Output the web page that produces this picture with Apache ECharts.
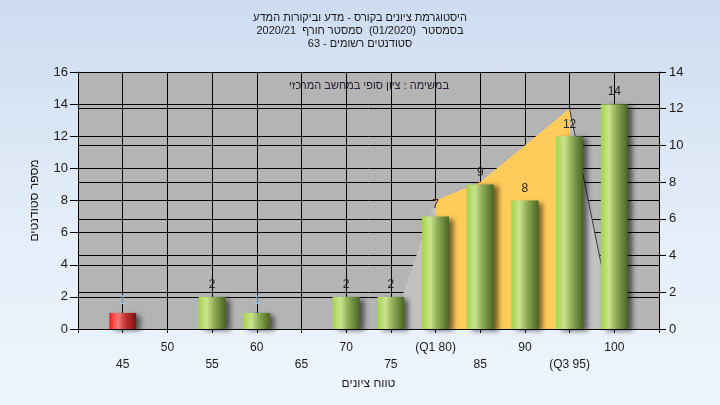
<!DOCTYPE html>
<html><head><meta charset="utf-8">
<script src="https://cdn.jsdelivr.net/npm/echarts@6/dist/echarts.min.js"></script>
<style>
html,body{margin:0;padding:0;}
#c{width:720px;height:405px;background:linear-gradient(to bottom,#cedcf0 0%,#e4edf9 55%,#eff5fd 100%);}
</style>
</head><body><div id="c"></div>
<script>
// categories (score bins); 40 and 105 are empty edge slots
const categories = ['40','45','50','55','60','65','70','75','80','85','90','95','100','105'];
const tickLabels = ['','45','50','55','60','65','70','75','(Q1 80)','85','90','(Q3 95)','100',''];
// number of students per bin (left axis)
const counts = [null,1,0,2,1,0,2,2,7,9,8,12,14,null];
// distribution curve (right axis)
const curveAll = [null,null,null,null,null,null,null,0,7,8,10,12,0,null];
const curveIQR = [null,null,null,null,null,null,null,null,7,8,10,12,null,null];
const curveTail = [null,null,null,null,null,null,null,null,null,null,null,12,0,null];
const leftTicks = {min:0,max:16,interval:2};
const rightTicks = {min:0,max:14,interval:2};
const titleText = 'היסטוגרמת ציונים בקורס - מדע וביקורות המדע\nבסמסטר  (01/2020)  סמסטר חורף  2020/21\nסטודנטים רשומים - 63';
const noteText = 'במשימה : ציון סופי במחשב המרכזי';
const xName = 'טווח ציונים';
const yName = 'מספר סטודנטים';

const FONT = '"Liberation Sans", Arial, sans-serif';
const green = {type:'linear',x:0,y:0,x2:1,y2:0,colorStops:[
  {offset:0,color:'#a6d24a'},{offset:0.3,color:'#c9e48f'},{offset:0.55,color:'#93b05a'},{offset:1,color:'#4a6522'}]};
const red = {type:'linear',x:0,y:0,x2:1,y2:0,colorStops:[
  {offset:0,color:'#ff1c1c'},{offset:0.33,color:'#f27a7a'},{offset:0.6,color:'#c53030'},{offset:1,color:'#7e1212'}]};

const barData = counts.map((v,i)=>{
  if (v === null) return null;
  return {value:v, itemStyle:{color: i===1 ? red : green},
    label:{show: v>0, color: v===1 ? '#9cc2e0' : '#222'}};
});

const chart = echarts.init(document.getElementById('c'), null, {renderer:'canvas'});
chart.setOption({
  backgroundColor:'transparent',
  animation:false,
  textStyle:{fontFamily:FONT},
  title:{text:titleText,left:'center',top:6,
    textStyle:{fontSize:11,lineHeight:13,color:'#1a1a1a',fontWeight:'normal',fontFamily:FONT}},
  graphic:[{type:'text',x:369,y:86,style:{text:noteText,align:'center',verticalAlign:'middle',
    fill:'#2a2030',font:'11px '+FONT},z:10}],
  grid:{left:78,right:61,top:72,bottom:76,show:true,backgroundColor:'#b4b4b4',borderWidth:0},
  xAxis:{type:'category',data:categories,boundaryGap:false,
    name:xName,nameLocation:'middle',nameGap:46,
    nameTextStyle:{fontSize:12,color:'#1a1a1a',fontFamily:FONT},
    axisLine:{lineStyle:{color:'#000',width:1}},
    axisTick:{show:true,interval:0,length:4,lineStyle:{color:'#000'}},
    splitLine:{show:true,interval:0,lineStyle:{color:'#000',width:1}},
    axisLabel:{interval:0,margin:10,fontSize:12,lineHeight:17,color:'#1a1a1a',fontFamily:FONT,
      formatter:(v,i)=>(i%2 ? '\n' : '')+tickLabels[i]}},
  yAxis:[
    {type:'value',min:leftTicks.min,max:leftTicks.max,interval:leftTicks.interval,
     name:yName,nameLocation:'middle',nameGap:37,
     nameTextStyle:{fontSize:12,color:'#1a1a1a',fontFamily:FONT},
     axisLine:{show:true,lineStyle:{color:'#000'}},
     axisTick:{show:true,length:8,lineStyle:{color:'#000'}},
     splitLine:{show:true,lineStyle:{color:'#000',width:1}},
     axisLabel:{fontSize:13,color:'#1a1a1a',margin:10,fontFamily:FONT}},
    {type:'value',position:'right',min:rightTicks.min,max:rightTicks.max,interval:rightTicks.interval,
     axisLine:{show:true,lineStyle:{color:'#000'}},
     axisTick:{show:true,length:7,lineStyle:{color:'#000'}},
     splitLine:{show:true,lineStyle:{color:'#000',width:1}},
     axisLabel:{fontSize:13,color:'#1a1a1a',margin:10,fontFamily:FONT}}
  ],
  series:[
    {type:'line',yAxisIndex:1,data:curveAll,showSymbol:false,symbol:'none',z:2,
     lineStyle:{width:0},areaStyle:{color:'#c1c1c1',opacity:1}},
    {type:'line',yAxisIndex:1,data:curveIQR,showSymbol:false,symbol:'none',z:2,
     lineStyle:{width:0},areaStyle:{color:'#ffcb5a',opacity:1}},
    {type:'line',yAxisIndex:1,data:curveTail,showSymbol:false,symbol:'none',z:2,
     lineStyle:{width:1,color:'#3a3a3a'}},
    {type:'bar',yAxisIndex:0,data:barData,barWidth:27,z:3,
     itemStyle:{shadowBlur:5,shadowColor:'rgba(0,0,0,0.55)',shadowOffsetX:5,shadowOffsetY:2},
     label:{show:true,position:'top',distance:6,fontSize:12,fontFamily:FONT}}
  ]
});
</script>
</body></html>
